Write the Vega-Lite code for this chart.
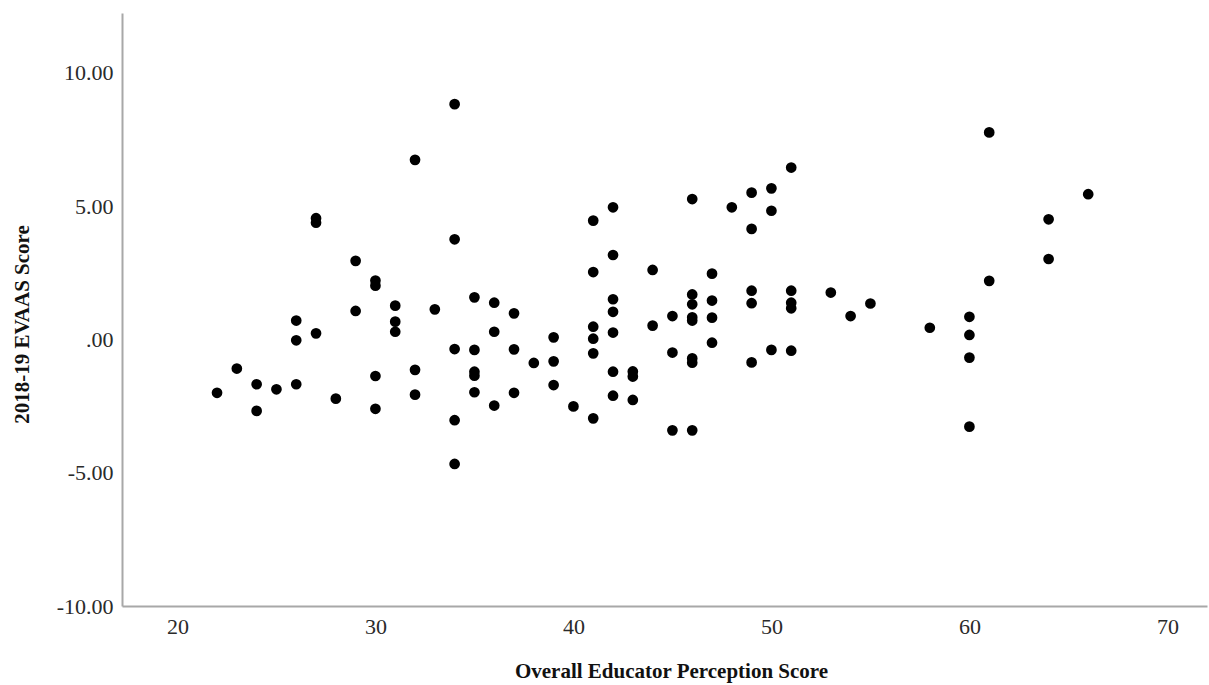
{
  "$schema": "https://vega.github.io/schema/vega-lite/v6.json",
  "autosize": "none",
  "padding": {"left": 122, "top": 13, "right": 2, "bottom": 79},
  "width": 1085,
  "height": 593,
  "background": "white",
  "config": {"view": {"stroke": null}},
  "data": {"values": [
    {"p": 22, "e": -2.0},
    {"p": 23, "e": -1.09},
    {"p": 24, "e": -1.68}, {"p": 24, "e": -2.68},
    {"p": 25, "e": -1.87},
    {"p": 26, "e": 0.71}, {"p": 26, "e": -0.03}, {"p": 26, "e": -1.68},
    {"p": 27, "e": 4.55}, {"p": 27, "e": 4.38}, {"p": 27, "e": 0.23},
    {"p": 28, "e": -2.22},
    {"p": 29, "e": 2.95}, {"p": 29, "e": 1.07},
    {"p": 30, "e": 2.21}, {"p": 30, "e": 2.02}, {"p": 30, "e": -1.37}, {"p": 30, "e": -2.6},
    {"p": 31, "e": 1.27}, {"p": 31, "e": 0.67}, {"p": 31, "e": 0.29},
    {"p": 32, "e": 6.74}, {"p": 32, "e": -1.14}, {"p": 32, "e": -2.07},
    {"p": 33, "e": 1.13},
    {"p": 34, "e": 8.83}, {"p": 34, "e": 3.76}, {"p": 34, "e": -0.36}, {"p": 34, "e": -3.03}, {"p": 34, "e": -4.67},
    {"p": 35, "e": 1.58}, {"p": 35, "e": -0.39}, {"p": 35, "e": -1.21}, {"p": 35, "e": -1.36}, {"p": 35, "e": -1.98},
    {"p": 36, "e": 1.38}, {"p": 36, "e": 0.29}, {"p": 36, "e": -2.48},
    {"p": 37, "e": 0.98}, {"p": 37, "e": -0.37}, {"p": 37, "e": -2.0},
    {"p": 38, "e": -0.88},
    {"p": 39, "e": 0.08}, {"p": 39, "e": -0.82}, {"p": 39, "e": -1.71},
    {"p": 40, "e": -2.51},
    {"p": 41, "e": 4.46}, {"p": 41, "e": 2.53}, {"p": 41, "e": 0.48}, {"p": 41, "e": 0.03}, {"p": 41, "e": -0.52}, {"p": 41, "e": -2.96},
    {"p": 42, "e": 4.96}, {"p": 42, "e": 3.17}, {"p": 42, "e": 1.51}, {"p": 42, "e": 1.04}, {"p": 42, "e": 0.26}, {"p": 42, "e": -1.21}, {"p": 42, "e": -2.11},
    {"p": 43, "e": -1.2}, {"p": 43, "e": -1.39}, {"p": 43, "e": -2.27},
    {"p": 44, "e": 2.61}, {"p": 44, "e": 0.52},
    {"p": 45, "e": 0.88}, {"p": 45, "e": -0.49}, {"p": 45, "e": -3.41},
    {"p": 46, "e": 5.27}, {"p": 46, "e": 1.69}, {"p": 46, "e": 1.32}, {"p": 46, "e": 0.83}, {"p": 46, "e": 0.71}, {"p": 46, "e": -0.71}, {"p": 46, "e": -0.87}, {"p": 46, "e": -3.41},
    {"p": 47, "e": 2.47}, {"p": 47, "e": 1.46}, {"p": 47, "e": 0.82}, {"p": 47, "e": -0.12},
    {"p": 48, "e": 4.96},
    {"p": 49, "e": 5.51}, {"p": 49, "e": 4.15}, {"p": 49, "e": 1.83}, {"p": 49, "e": 1.36}, {"p": 49, "e": -0.86},
    {"p": 50, "e": 5.67}, {"p": 50, "e": 4.83}, {"p": 50, "e": -0.39},
    {"p": 51, "e": 6.45}, {"p": 51, "e": 1.83}, {"p": 51, "e": 1.38}, {"p": 51, "e": 1.17}, {"p": 51, "e": -0.42},
    {"p": 53, "e": 1.76},
    {"p": 54, "e": 0.88},
    {"p": 55, "e": 1.35},
    {"p": 58, "e": 0.44},
    {"p": 60, "e": 0.85}, {"p": 60, "e": 0.17}, {"p": 60, "e": -0.68}, {"p": 60, "e": -3.27},
    {"p": 61, "e": 7.77}, {"p": 61, "e": 2.2},
    {"p": 64, "e": 4.51}, {"p": 64, "e": 3.02},
    {"p": 66, "e": 5.45}
  ]},
  "mark": {"type": "point", "filled": true, "color": "black", "opacity": 1, "size": 115, "shape": "circle"},
  "encoding": {
    "x": {
      "field": "p", "type": "quantitative",
      "scale": {"domain": [17.2, 72], "nice": false, "zero": false},
      "axis": {
        "title": "Overall Educator Perception Score",
        "values": [20, 30, 40, 50, 60, 70],
        "format": "d",
        "grid": false, "ticks": false,
        "domainColor": "#a8a8a8", "domainWidth": 2,
        "labelFont": "Liberation Serif", "labelFontSize": 22, "labelColor": "#2a2a2a",
        "labelPadding": 10, "labelBaseline": "top",
        "titleFont": "Liberation Serif", "titleFontWeight": "bold", "titleFontSize": 21, "titleColor": "#111111",
        "titleX": 549, "titleY": 71, "titleBaseline": "alphabetic", "titleAlign": "center"
      }
    },
    "y": {
      "field": "e", "type": "quantitative",
      "scale": {"domain": [-10, 12.25], "nice": false, "zero": false},
      "axis": {
        "title": "2018-19 EVAAS Score",
        "values": [-10, -5, 0, 5, 10],
        "labelExpr": "datum.value == 0 ? '.00' : (datum.value < 0 ? '-' : '') + format(abs(datum.value), '.2f')",
        "grid": false, "ticks": false,
        "domainColor": "#a8a8a8", "domainWidth": 2,
        "labelFont": "Liberation Serif", "labelFontSize": 22, "labelColor": "#2a2a2a",
        "labelPadding": 9, "labelBaseline": "middle",
        "titleFont": "Liberation Serif", "titleFontWeight": "bold", "titleFontSize": 21, "titleColor": "#111111",
        "titleAngle": 270, "titleX": -94, "titleY": 311, "titleBaseline": "alphabetic", "titleAlign": "center"
      }
    }
  }
}
